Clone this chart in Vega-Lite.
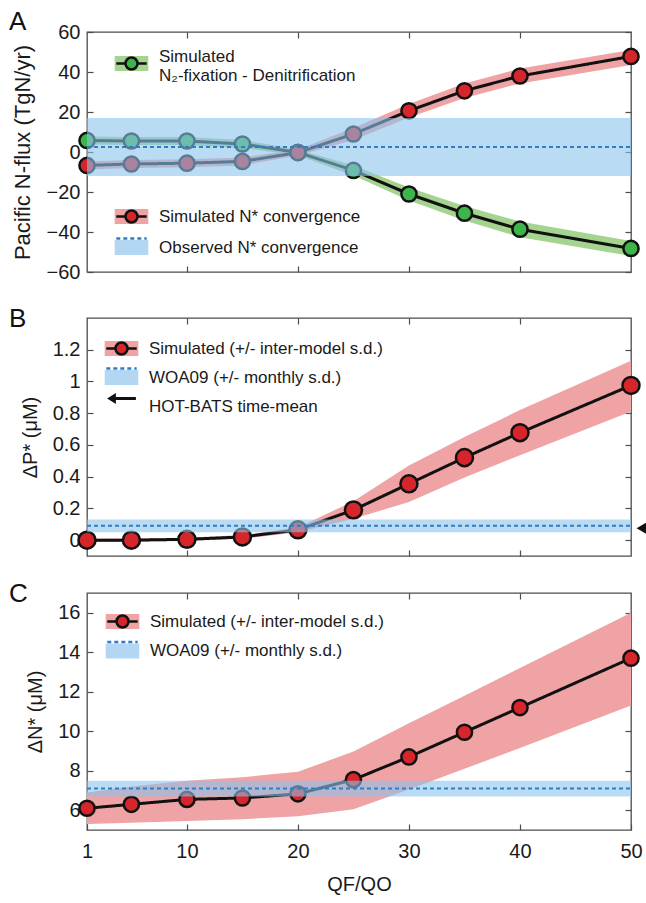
{
  "$schema": "https://vega.github.io/schema/vega-lite/v6.json",
  "background": "white",
  "padding": {"left": 8, "top": 8, "right": 0, "bottom": 5},
  "spacing": 22,
  "config": {
    "font": "Liberation Sans",
    "view": {"stroke": "#4d4d4d", "strokeWidth": 1.3},
    "axis": {"domain": false, "grid": false, "tickSize": -6, "tickColor": "#4d4d4d", "tickWidth": 1.2, "labelFontSize": 20, "labelColor": "#1a1a1a", "titleFontSize": 20, "titleFontWeight": "normal", "titleColor": "#1a1a1a", "labelPadding": 13, "titlePadding": 12, "labelFlush": false, "labelFont": "Liberation Sans", "titleFont": "Liberation Sans"},
    "legend": {"labelFont": "Liberation Sans", "labelFontSize": 17, "labelColor": "#1a1a1a", "labelLimit": 600, "padding": 0, "symbolSize": 256, "symbolStrokeWidth": 2.5, "labelOffset": 18},
    "title": {"font": "Liberation Sans", "fontSize": 26, "fontWeight": "normal", "color": "#111111"}
  },
  "datasets": {
    "nfix": [
      {"x": 1, "y": 5.8, "lo": 3.8, "hi": 7.8, "s": "Simulated N₂-fixation - Denitrification"},
      {"x": 5, "y": 5.5, "lo": 3.5, "hi": 7.5, "s": "Simulated N₂-fixation - Denitrification"},
      {"x": 10, "y": 5.5, "lo": 3.5, "hi": 7.5, "s": "Simulated N₂-fixation - Denitrification"},
      {"x": 15, "y": 4.0, "lo": 2.0, "hi": 6.0, "s": "Simulated N₂-fixation - Denitrification"},
      {"x": 20, "y": -0.2, "lo": -1.7, "hi": 1.3, "s": "Simulated N₂-fixation - Denitrification"},
      {"x": 25, "y": -9.2, "lo": -11.7, "hi": -6.7, "s": "Simulated N₂-fixation - Denitrification"},
      {"x": 30, "y": -21.0, "lo": -24.3, "hi": -17.7, "s": "Simulated N₂-fixation - Denitrification"},
      {"x": 35, "y": -30.6, "lo": -34.2, "hi": -27.0, "s": "Simulated N₂-fixation - Denitrification"},
      {"x": 40, "y": -38.6, "lo": -42.6, "hi": -34.8, "s": "Simulated N₂-fixation - Denitrification"},
      {"x": 50, "y": -48.2, "lo": -52.0, "hi": -44.5, "s": "Simulated N₂-fixation - Denitrification"}
    ],
    "nconv": [
      {"x": 1, "y": -6.7, "lo": -8.7, "hi": -4.7, "s": "Simulated N* convergence"},
      {"x": 5, "y": -6.0, "lo": -8.0, "hi": -4.0, "s": "Simulated N* convergence"},
      {"x": 10, "y": -5.6, "lo": -7.6, "hi": -3.6, "s": "Simulated N* convergence"},
      {"x": 15, "y": -4.7, "lo": -6.7, "hi": -2.7, "s": "Simulated N* convergence"},
      {"x": 20, "y": -0.3, "lo": -1.8, "hi": 1.2, "s": "Simulated N* convergence"},
      {"x": 25, "y": 9.0, "lo": 6.0, "hi": 12.0, "s": "Simulated N* convergence"},
      {"x": 30, "y": 20.6, "lo": 17.2, "hi": 24.0, "s": "Simulated N* convergence"},
      {"x": 35, "y": 30.6, "lo": 27.0, "hi": 34.2, "s": "Simulated N* convergence"},
      {"x": 40, "y": 38.0, "lo": 34.3, "hi": 41.8, "s": "Simulated N* convergence"},
      {"x": 50, "y": 47.8, "lo": 43.5, "hi": 51.0, "s": "Simulated N* convergence"}
    ],
    "nobs": [{"lo": -12, "hi": 17, "mean": 2.5}],
    "dp": [
      {"x": 1, "y": 0.0, "lo": -0.01, "hi": 0.01, "s": "Simulated (+/- inter-model s.d.)"},
      {"x": 5, "y": 0.0, "lo": -0.01, "hi": 0.01, "s": "Simulated (+/- inter-model s.d.)"},
      {"x": 10, "y": 0.005, "lo": -0.005, "hi": 0.015, "s": "Simulated (+/- inter-model s.d.)"},
      {"x": 15, "y": 0.02, "lo": 0.008, "hi": 0.032, "s": "Simulated (+/- inter-model s.d.)"},
      {"x": 20, "y": 0.065, "lo": 0.05, "hi": 0.08, "s": "Simulated (+/- inter-model s.d.)"},
      {"x": 25, "y": 0.19, "lo": 0.135, "hi": 0.245, "s": "Simulated (+/- inter-model s.d.)"},
      {"x": 30, "y": 0.355, "lo": 0.24, "hi": 0.47, "s": "Simulated (+/- inter-model s.d.)"},
      {"x": 35, "y": 0.52, "lo": 0.395, "hi": 0.65, "s": "Simulated (+/- inter-model s.d.)"},
      {"x": 40, "y": 0.677, "lo": 0.535, "hi": 0.82, "s": "Simulated (+/- inter-model s.d.)"},
      {"x": 50, "y": 0.975, "lo": 0.81, "hi": 1.13, "s": "Simulated (+/- inter-model s.d.)"}
    ],
    "pobs": [{"lo": 0.05, "hi": 0.13, "mean": 0.09}],
    "hot": [{"hotbats": 0.075}],
    "dn": [
      {"x": 1, "y": 6.1, "lo": 5.3, "hi": 6.9, "s": "Simulated (+/- inter-model s.d.)"},
      {"x": 5, "y": 6.3, "lo": 5.37, "hi": 7.2, "s": "Simulated (+/- inter-model s.d.)"},
      {"x": 10, "y": 6.55, "lo": 5.45, "hi": 7.5, "s": "Simulated (+/- inter-model s.d.)"},
      {"x": 15, "y": 6.62, "lo": 5.55, "hi": 7.67, "s": "Simulated (+/- inter-model s.d.)"},
      {"x": 20, "y": 6.83, "lo": 5.7, "hi": 7.95, "s": "Simulated (+/- inter-model s.d.)"},
      {"x": 25, "y": 7.55, "lo": 6.05, "hi": 8.97, "s": "Simulated (+/- inter-model s.d.)"},
      {"x": 30, "y": 8.7, "lo": 7.05, "hi": 10.4, "s": "Simulated (+/- inter-model s.d.)"},
      {"x": 35, "y": 9.95, "lo": 8.1, "hi": 11.8, "s": "Simulated (+/- inter-model s.d.)"},
      {"x": 40, "y": 11.2, "lo": 9.15, "hi": 13.2, "s": "Simulated (+/- inter-model s.d.)"},
      {"x": 50, "y": 13.7, "lo": 11.3, "hi": 16.0, "s": "Simulated (+/- inter-model s.d.)"}
    ],
    "dnobs": [{"lo": 6.7, "hi": 7.5, "mean": 7.1}]
  },
  "resolve": {"scale": {"fill": "independent", "stroke": "independent", "strokeDash": "independent", "shape": "independent"}},
  "vconcat": [
    {
      "width": 544, "height": 240,
      "title": {"text": "A", "anchor": "start", "frame": "group", "dx": -78, "baseline": "alphabetic", "offset": -34},
      "resolve": {"scale": {"fill": "independent", "stroke": "independent", "strokeDash": "independent"}, "axis": {"x": "independent", "y": "independent"}},
      "layer": [
        {"data": {"name": "nfix"}, "mark": {"type": "area"},
         "encoding": {
           "x": {"field": "x", "type": "quantitative", "scale": {"domain": [1, 50], "nice": false, "zero": false}, "axis": {"orient": "bottom", "labels": false, "values": [10, 20, 30, 40], "title": null}},
           "y": {"field": "lo", "type": "quantitative", "scale": {"domain": [-60, 60], "nice": false, "zero": false}, "axis": {"orient": "left", "values": [-60, -40, -20, 0, 20, 40, 60], "title": "Pacific N-flux (TgN/yr)", "titleFontSize": 22}},
           "y2": {"field": "hi"},
           "fill": {"field": "s", "type": "nominal", "scale": {"domain": ["Simulated N₂-fixation - Denitrification"], "range": ["#a5d490"]},
             "legend": {"orient": "none", "legendX": 35, "legendY": 22, "title": null, "symbolType": "M-2.1,-0.95H2.1V0.95H-2.1Z", "symbolStrokeColor": "transparent", "labelExpr": "['Simulated', 'N₂-fixation - Denitrification']", "zindex": 1, "encode": {"labels": {"update": {"dy": {"value": -7}}}}}}
         }},
        {"data": {"name": "nconv"}, "mark": {"type": "area"},
         "encoding": {
           "x": {"field": "x", "type": "quantitative", "scale": {"domain": [1, 50], "nice": false, "zero": false}, "axis": null},
           "y": {"field": "lo", "type": "quantitative", "scale": {"domain": [-60, 60], "nice": false, "zero": false}, "axis": null},
           "y2": {"field": "hi"},
           "fill": {"field": "s", "type": "nominal", "scale": {"domain": ["Simulated N* convergence", "Observed N* convergence"], "range": ["#efa3a4", "#b3d6f2"]},
             "legend": {"orient": "none", "legendX": 35, "legendY": 175, "rowPadding": 4, "title": null, "symbolType": "M-2.1,-0.95H2.1V0.95H-2.1Z", "symbolStrokeColor": "transparent", "zindex": 1}}
         }},
        {"data": {"name": "nfix"}, "mark": {"type": "line", "strokeWidth": 3},
         "encoding": {
           "x": {"field": "x", "type": "quantitative", "scale": {"domain": [1, 50], "nice": false, "zero": false}, "axis": null},
           "y": {"field": "y", "type": "quantitative", "scale": {"domain": [-60, 60], "nice": false, "zero": false}, "axis": null},
           "stroke": {"field": "s", "type": "nominal", "scale": {"domain": ["Simulated N₂-fixation - Denitrification", "_l"], "range": ["#111111", "#111111"]},
             "legend": {"orient": "none", "legendX": 35, "legendY": 22, "title": null, "values": ["Simulated N₂-fixation - Denitrification"], "symbolType": "M-1.9,0H1.9", "symbolFillColor": "transparent", "labelColor": "rgba(0,0,0,0)", "labelExpr": "''", "zindex": 2}}
         }},
        {"data": {"name": "nconv"}, "mark": {"type": "line", "strokeWidth": 3},
         "encoding": {
           "x": {"field": "x", "type": "quantitative", "scale": {"domain": [1, 50], "nice": false, "zero": false}, "axis": null},
           "y": {"field": "y", "type": "quantitative", "scale": {"domain": [-60, 60], "nice": false, "zero": false}, "axis": null},
           "stroke": {"field": "s", "type": "nominal", "scale": {"domain": ["Simulated N* convergence", "Observed N* convergence", "_l"], "range": ["#111111", "#2f7ec5", "#111111"]},
             "legend": {"orient": "none", "legendX": 35, "legendY": 175, "rowPadding": 4, "title": null, "values": ["Simulated N* convergence", "Observed N* convergence"], "symbolType": "M-1.9,0H1.9", "symbolFillColor": "transparent", "labelColor": "rgba(0,0,0,0)", "labelExpr": "''", "zindex": 2}},
           "strokeDash": {"field": "s", "type": "nominal", "scale": {"domain": ["Simulated N* convergence", "Observed N* convergence", "_l"], "range": [[1, 0], [4, 3], [1, 0]]},
             "legend": {"orient": "none", "legendX": 35, "legendY": 175, "rowPadding": 4, "title": null, "values": ["Simulated N* convergence", "Observed N* convergence"], "symbolType": "M-1.9,0H1.9", "symbolFillColor": "transparent", "labelColor": "rgba(0,0,0,0)", "labelExpr": "''", "zindex": 2}}
         }},
        {"data": {"name": "nfix"}, "mark": {"type": "point", "filled": true, "size": 230, "strokeWidth": 2.5, "opacity": 1},
         "encoding": {
           "x": {"field": "x", "type": "quantitative", "scale": {"domain": [1, 50], "nice": false, "zero": false}, "axis": null},
           "y": {"field": "y", "type": "quantitative", "scale": {"domain": [-60, 60], "nice": false, "zero": false}, "axis": null},
           "fill": {"field": "s", "type": "nominal", "scale": {"domain": ["Simulated N₂-fixation - Denitrification", "_p"], "range": ["#3db54a", "#3db54a"]},
             "legend": {"orient": "none", "legendX": 35, "legendY": 22, "title": null, "values": ["Simulated N₂-fixation - Denitrification"], "symbolType": "M-0.75,0A0.75,0.75,0,1,0,0.75,0A0.75,0.75,0,1,0,-0.75,0Z", "labelColor": "rgba(0,0,0,0)", "labelExpr": "''", "zindex": 3}},
           "stroke": {"field": "s", "type": "nominal", "scale": {"domain": ["Simulated N₂-fixation - Denitrification", "_p"], "range": ["#111111", "#111111"]},
             "legend": {"orient": "none", "legendX": 35, "legendY": 22, "title": null, "values": ["Simulated N₂-fixation - Denitrification"], "symbolType": "M-0.75,0A0.75,0.75,0,1,0,0.75,0A0.75,0.75,0,1,0,-0.75,0Z", "labelColor": "rgba(0,0,0,0)", "labelExpr": "''", "zindex": 3}}
         }},
        {"data": {"name": "nconv"}, "mark": {"type": "point", "filled": true, "size": 230, "strokeWidth": 2.5, "opacity": 1},
         "encoding": {
           "x": {"field": "x", "type": "quantitative", "scale": {"domain": [1, 50], "nice": false, "zero": false}, "axis": null},
           "y": {"field": "y", "type": "quantitative", "scale": {"domain": [-60, 60], "nice": false, "zero": false}, "axis": null},
           "fill": {"field": "s", "type": "nominal", "scale": {"domain": ["Simulated N* convergence", "Observed N* convergence", "_p"], "range": ["#d7262b", "rgba(0,0,0,0)", "#d7262b"]},
             "legend": {"orient": "none", "legendX": 35, "legendY": 175, "rowPadding": 4, "title": null, "values": ["Simulated N* convergence", "Observed N* convergence"], "symbolType": "M-0.75,0A0.75,0.75,0,1,0,0.75,0A0.75,0.75,0,1,0,-0.75,0Z", "labelColor": "rgba(0,0,0,0)", "labelExpr": "''", "zindex": 3}},
           "stroke": {"field": "s", "type": "nominal", "scale": {"domain": ["Simulated N* convergence", "Observed N* convergence", "_p"], "range": ["#111111", "rgba(0,0,0,0)", "#111111"]},
             "legend": {"orient": "none", "legendX": 35, "legendY": 175, "rowPadding": 4, "title": null, "values": ["Simulated N* convergence", "Observed N* convergence"], "symbolType": "M-0.75,0A0.75,0.75,0,1,0,0.75,0A0.75,0.75,0,1,0,-0.75,0Z", "labelColor": "rgba(0,0,0,0)", "labelExpr": "''", "zindex": 3}}
         }},
        {"data": {"name": "nobs"}, "mark": {"type": "rect", "color": "#8cc3ec", "opacity": 0.6},
         "encoding": {
           "x": {"datum": 1, "type": "quantitative", "scale": {"domain": [1, 50], "nice": false, "zero": false}, "axis": null},
           "x2": {"datum": 50},
           "y": {"field": "lo", "type": "quantitative", "scale": {"domain": [-60, 60], "nice": false, "zero": false}, "axis": null},
           "y2": {"field": "hi"}
         }},
        {"data": {"name": "nobs"}, "mark": {"type": "rule", "color": "#2f7ec5", "strokeWidth": 2, "strokeDash": [4, 3]},
         "encoding": {
           "x": {"datum": 1, "type": "quantitative", "scale": {"domain": [1, 50], "nice": false, "zero": false}, "axis": null},
           "x2": {"datum": 50},
           "y": {"field": "mean", "type": "quantitative", "scale": {"domain": [-60, 60], "nice": false, "zero": false}, "axis": null}
         }},
        {"data": {"name": "nconv"}, "mark": {"type": "point", "opacity": 0},
         "encoding": {
           "x": {"field": "x", "type": "quantitative", "scale": {"domain": [1, 50], "nice": false, "zero": false}, "axis": {"orient": "top", "labels": false, "values": [10, 20, 30, 40], "title": null}},
           "y": {"field": "y", "type": "quantitative", "scale": {"domain": [-60, 60], "nice": false, "zero": false}, "axis": {"orient": "right", "labels": false, "values": [-60, -40, -20, 0, 20, 40, 60], "title": null}}
         }}
      ]
    },
    {
      "width": 544, "height": 238,
      "title": {"text": "B", "anchor": "start", "frame": "group", "dx": -78, "baseline": "middle", "offset": -28},
      "resolve": {"scale": {"fill": "independent", "stroke": "independent", "strokeDash": "independent", "shape": "independent"}, "axis": {"x": "independent", "y": "independent"}},
      "layer": [
        {"data": {"name": "dp"}, "mark": {"type": "area"},
         "encoding": {
           "x": {"field": "x", "type": "quantitative", "scale": {"domain": [1, 50], "nice": false, "zero": false}, "axis": {"orient": "bottom", "labels": false, "values": [10, 20, 30, 40], "title": null}},
           "y": {"field": "lo", "type": "quantitative", "scale": {"domain": [-0.1, 1.4], "nice": false, "zero": false}, "axis": {"orient": "left", "values": [0, 0.2, 0.4, 0.6, 0.8, 1, 1.2], "format": "~g", "title": "ΔP* (μM)"}},
           "y2": {"field": "hi"},
           "fill": {"field": "s", "type": "nominal", "scale": {"domain": ["Simulated (+/- inter-model s.d.)", "WOA09 (+/- monthly s.d.)", "HOT-BATS time-mean"], "range": ["#efa3a4", "#b3d6f2", "rgba(0,0,0,0)"]},
             "legend": {"orient": "none", "legendX": 25, "legendY": 21, "rowPadding": 2, "title": null, "symbolType": "M-2.1,-0.95H2.1V0.95H-2.1Z", "symbolStrokeColor": "transparent", "zindex": 1}}
         }},
        {"data": {"name": "dp"}, "mark": {"type": "line", "strokeWidth": 3},
         "encoding": {
           "x": {"field": "x", "type": "quantitative", "scale": {"domain": [1, 50], "nice": false, "zero": false}, "axis": null},
           "y": {"field": "y", "type": "quantitative", "scale": {"domain": [-0.1, 1.4], "nice": false, "zero": false}, "axis": null},
           "stroke": {"field": "s", "type": "nominal", "scale": {"domain": ["Simulated (+/- inter-model s.d.)", "WOA09 (+/- monthly s.d.)", "HOT-BATS time-mean", "_l"], "range": ["#111111", "#2f7ec5", "rgba(0,0,0,0)", "#111111"]},
             "legend": {"orient": "none", "legendX": 25, "legendY": 21, "rowPadding": 2, "title": null, "values": ["Simulated (+/- inter-model s.d.)", "WOA09 (+/- monthly s.d.)", "HOT-BATS time-mean"], "symbolType": "M-1.9,0H1.9", "symbolFillColor": "transparent", "labelColor": "rgba(0,0,0,0)", "labelExpr": "''", "zindex": 2}},
           "strokeDash": {"field": "s", "type": "nominal", "scale": {"domain": ["Simulated (+/- inter-model s.d.)", "WOA09 (+/- monthly s.d.)", "HOT-BATS time-mean", "_l"], "range": [[1, 0], [4, 3], [1, 0], [1, 0]]},
             "legend": {"orient": "none", "legendX": 25, "legendY": 21, "rowPadding": 2, "title": null, "values": ["Simulated (+/- inter-model s.d.)", "WOA09 (+/- monthly s.d.)", "HOT-BATS time-mean"], "symbolType": "M-1.9,0H1.9", "symbolFillColor": "transparent", "labelColor": "rgba(0,0,0,0)", "labelExpr": "''", "zindex": 2}}
         }},
        {"data": {"name": "dp"}, "mark": {"type": "point", "filled": true, "size": 514, "strokeWidth": 2.5, "opacity": 1},
         "encoding": {
           "x": {"field": "x", "type": "quantitative", "scale": {"domain": [1, 50], "nice": false, "zero": false}, "axis": null},
           "y": {"field": "y", "type": "quantitative", "scale": {"domain": [-0.1, 1.4], "nice": false, "zero": false}, "axis": null},
           "fill": {"field": "s", "type": "nominal", "scale": {"domain": ["Simulated (+/- inter-model s.d.)", "WOA09 (+/- monthly s.d.)", "HOT-BATS time-mean", "_p"], "range": ["#d7262b", "rgba(0,0,0,0)", "#111111", "#d7262b"]},
             "legend": {"orient": "none", "legendX": 25, "legendY": 21, "rowPadding": 2, "title": null, "values": ["Simulated (+/- inter-model s.d.)", "WOA09 (+/- monthly s.d.)", "HOT-BATS time-mean"], "labelColor": "rgba(0,0,0,0)", "labelExpr": "''", "zindex": 3}},
           "stroke": {"field": "s", "type": "nominal", "scale": {"domain": ["Simulated (+/- inter-model s.d.)", "WOA09 (+/- monthly s.d.)", "HOT-BATS time-mean", "_p"], "range": ["#111111", "rgba(0,0,0,0)", "rgba(0,0,0,0)", "#111111"]},
             "legend": {"orient": "none", "legendX": 25, "legendY": 21, "rowPadding": 2, "title": null, "values": ["Simulated (+/- inter-model s.d.)", "WOA09 (+/- monthly s.d.)", "HOT-BATS time-mean"], "labelColor": "rgba(0,0,0,0)", "labelExpr": "''", "zindex": 3}},
           "shape": {"field": "s", "type": "nominal", "scale": {"domain": ["Simulated (+/- inter-model s.d.)", "WOA09 (+/- monthly s.d.)", "HOT-BATS time-mean", "_p"], "range": ["M-0.75,0A0.75,0.75,0,1,0,0.75,0A0.75,0.75,0,1,0,-0.75,0Z", "M-0.75,0A0.75,0.75,0,1,0,0.75,0A0.75,0.75,0,1,0,-0.75,0Z", "M-1.8,0L-0.7,-0.7V-0.2H1.8V0.2H-0.7V0.7Z", "M-0.75,0A0.75,0.75,0,1,0,0.75,0A0.75,0.75,0,1,0,-0.75,0Z"]},
             "legend": {"orient": "none", "legendX": 25, "legendY": 21, "rowPadding": 2, "title": null, "values": ["Simulated (+/- inter-model s.d.)", "WOA09 (+/- monthly s.d.)", "HOT-BATS time-mean"], "labelColor": "rgba(0,0,0,0)", "labelExpr": "''", "zindex": 3}}
         }},
        {"data": {"name": "pobs"}, "mark": {"type": "rect", "color": "#8cc3ec", "opacity": 0.6},
         "encoding": {
           "x": {"datum": 1, "type": "quantitative", "scale": {"domain": [1, 50], "nice": false, "zero": false}, "axis": null},
           "x2": {"datum": 50},
           "y": {"field": "lo", "type": "quantitative", "scale": {"domain": [-0.1, 1.4], "nice": false, "zero": false}, "axis": null},
           "y2": {"field": "hi"}
         }},
        {"data": {"name": "pobs"}, "mark": {"type": "rule", "color": "#2f7ec5", "strokeWidth": 2, "strokeDash": [4, 3]},
         "encoding": {
           "x": {"datum": 1, "type": "quantitative", "scale": {"domain": [1, 50], "nice": false, "zero": false}, "axis": null},
           "x2": {"datum": 50},
           "y": {"field": "mean", "type": "quantitative", "scale": {"domain": [-0.1, 1.4], "nice": false, "zero": false}, "axis": null}
         }},
        {"data": {"name": "hot"}, "mark": {"type": "point", "shape": "triangle-left", "filled": true, "color": "#111111", "size": 220, "opacity": 1, "xOffset": 12},
         "encoding": {
           "x": {"datum": 50, "type": "quantitative", "scale": {"domain": [1, 50], "nice": false, "zero": false}, "axis": null},
           "y": {"field": "hotbats", "type": "quantitative", "scale": {"domain": [-0.1, 1.4], "nice": false, "zero": false}, "axis": null}
         }},
        {"data": {"name": "dp"}, "mark": {"type": "point", "opacity": 0},
         "encoding": {
           "x": {"field": "x", "type": "quantitative", "scale": {"domain": [1, 50], "nice": false, "zero": false}, "axis": {"orient": "top", "labels": false, "values": [10, 20, 30, 40], "title": null}},
           "y": {"field": "y", "type": "quantitative", "scale": {"domain": [-0.1, 1.4], "nice": false, "zero": false}, "axis": {"orient": "right", "labels": false, "values": [0, 0.2, 0.4, 0.6, 0.8, 1, 1.2], "title": null}}
         }}
      ]
    },
    {
      "width": 544, "height": 237,
      "title": {"text": "C", "anchor": "start", "frame": "group", "dx": -78, "baseline": "middle", "offset": -28},
      "resolve": {"scale": {"fill": "independent", "stroke": "independent", "strokeDash": "independent"}, "axis": {"x": "independent", "y": "independent"}},
      "layer": [
        {"data": {"name": "dn"}, "mark": {"type": "area"},
         "encoding": {
           "x": {"field": "x", "type": "quantitative", "scale": {"domain": [1, 50], "nice": false, "zero": false}, "axis": {"orient": "bottom", "values": [1, 10, 20, 30, 40, 50], "title": "QF/QO", "labelPadding": 17, "titlePadding": 13}},
           "y": {"field": "lo", "type": "quantitative", "scale": {"domain": [5, 17], "nice": false, "zero": false}, "axis": {"orient": "left", "values": [6, 8, 10, 12, 14, 16], "title": "ΔN* (μM)"}},
           "y2": {"field": "hi"},
           "fill": {"field": "s", "type": "nominal", "scale": {"domain": ["Simulated (+/- inter-model s.d.)", "WOA09 (+/- monthly s.d.)"], "range": ["#efa3a4", "#b3d6f2"]},
             "legend": {"orient": "none", "legendX": 26, "legendY": 19, "rowPadding": 2.5, "title": null, "symbolType": "M-2.1,-0.95H2.1V0.95H-2.1Z", "symbolStrokeColor": "transparent", "zindex": 1}}
         }},
        {"data": {"name": "dn"}, "mark": {"type": "line", "strokeWidth": 3},
         "encoding": {
           "x": {"field": "x", "type": "quantitative", "scale": {"domain": [1, 50], "nice": false, "zero": false}, "axis": null},
           "y": {"field": "y", "type": "quantitative", "scale": {"domain": [5, 17], "nice": false, "zero": false}, "axis": null},
           "stroke": {"field": "s", "type": "nominal", "scale": {"domain": ["Simulated (+/- inter-model s.d.)", "WOA09 (+/- monthly s.d.)", "_l"], "range": ["#111111", "#2f7ec5", "#111111"]},
             "legend": {"orient": "none", "legendX": 26, "legendY": 19, "rowPadding": 2.5, "title": null, "values": ["Simulated (+/- inter-model s.d.)", "WOA09 (+/- monthly s.d.)"], "symbolType": "M-1.9,0H1.9", "symbolFillColor": "transparent", "labelColor": "rgba(0,0,0,0)", "labelExpr": "''", "zindex": 2}},
           "strokeDash": {"field": "s", "type": "nominal", "scale": {"domain": ["Simulated (+/- inter-model s.d.)", "WOA09 (+/- monthly s.d.)", "_l"], "range": [[1, 0], [4, 3], [1, 0]]},
             "legend": {"orient": "none", "legendX": 26, "legendY": 19, "rowPadding": 2.5, "title": null, "values": ["Simulated (+/- inter-model s.d.)", "WOA09 (+/- monthly s.d.)"], "symbolType": "M-1.9,0H1.9", "symbolFillColor": "transparent", "labelColor": "rgba(0,0,0,0)", "labelExpr": "''", "zindex": 2}}
         }},
        {"data": {"name": "dn"}, "mark": {"type": "point", "filled": true, "size": 230, "strokeWidth": 2.5, "opacity": 1},
         "encoding": {
           "x": {"field": "x", "type": "quantitative", "scale": {"domain": [1, 50], "nice": false, "zero": false}, "axis": null},
           "y": {"field": "y", "type": "quantitative", "scale": {"domain": [5, 17], "nice": false, "zero": false}, "axis": null},
           "fill": {"field": "s", "type": "nominal", "scale": {"domain": ["Simulated (+/- inter-model s.d.)", "WOA09 (+/- monthly s.d.)", "_p"], "range": ["#d7262b", "rgba(0,0,0,0)", "#d7262b"]},
             "legend": {"orient": "none", "legendX": 26, "legendY": 19, "rowPadding": 2.5, "title": null, "values": ["Simulated (+/- inter-model s.d.)", "WOA09 (+/- monthly s.d.)"], "symbolType": "M-0.75,0A0.75,0.75,0,1,0,0.75,0A0.75,0.75,0,1,0,-0.75,0Z", "labelColor": "rgba(0,0,0,0)", "labelExpr": "''", "zindex": 3}},
           "stroke": {"field": "s", "type": "nominal", "scale": {"domain": ["Simulated (+/- inter-model s.d.)", "WOA09 (+/- monthly s.d.)", "_p"], "range": ["#111111", "rgba(0,0,0,0)", "#111111"]},
             "legend": {"orient": "none", "legendX": 26, "legendY": 19, "rowPadding": 2.5, "title": null, "values": ["Simulated (+/- inter-model s.d.)", "WOA09 (+/- monthly s.d.)"], "symbolType": "M-0.75,0A0.75,0.75,0,1,0,0.75,0A0.75,0.75,0,1,0,-0.75,0Z", "labelColor": "rgba(0,0,0,0)", "labelExpr": "''", "zindex": 3}}
         }},
        {"data": {"name": "dnobs"}, "mark": {"type": "rect", "color": "#8cc3ec", "opacity": 0.6},
         "encoding": {
           "x": {"datum": 1, "type": "quantitative", "scale": {"domain": [1, 50], "nice": false, "zero": false}, "axis": null},
           "x2": {"datum": 50},
           "y": {"field": "lo", "type": "quantitative", "scale": {"domain": [5, 17], "nice": false, "zero": false}, "axis": null},
           "y2": {"field": "hi"}
         }},
        {"data": {"name": "dnobs"}, "mark": {"type": "rule", "color": "#2f7ec5", "strokeWidth": 2, "strokeDash": [4, 3]},
         "encoding": {
           "x": {"datum": 1, "type": "quantitative", "scale": {"domain": [1, 50], "nice": false, "zero": false}, "axis": null},
           "x2": {"datum": 50},
           "y": {"field": "mean", "type": "quantitative", "scale": {"domain": [5, 17], "nice": false, "zero": false}, "axis": null}
         }},
        {"data": {"name": "dn"}, "mark": {"type": "point", "opacity": 0},
         "encoding": {
           "x": {"field": "x", "type": "quantitative", "scale": {"domain": [1, 50], "nice": false, "zero": false}, "axis": {"orient": "top", "labels": false, "values": [10, 20, 30, 40], "title": null}},
           "y": {"field": "y", "type": "quantitative", "scale": {"domain": [5, 17], "nice": false, "zero": false}, "axis": {"orient": "right", "labels": false, "values": [6, 8, 10, 12, 14, 16], "title": null}}
         }}
      ]
    }
  ]
}
